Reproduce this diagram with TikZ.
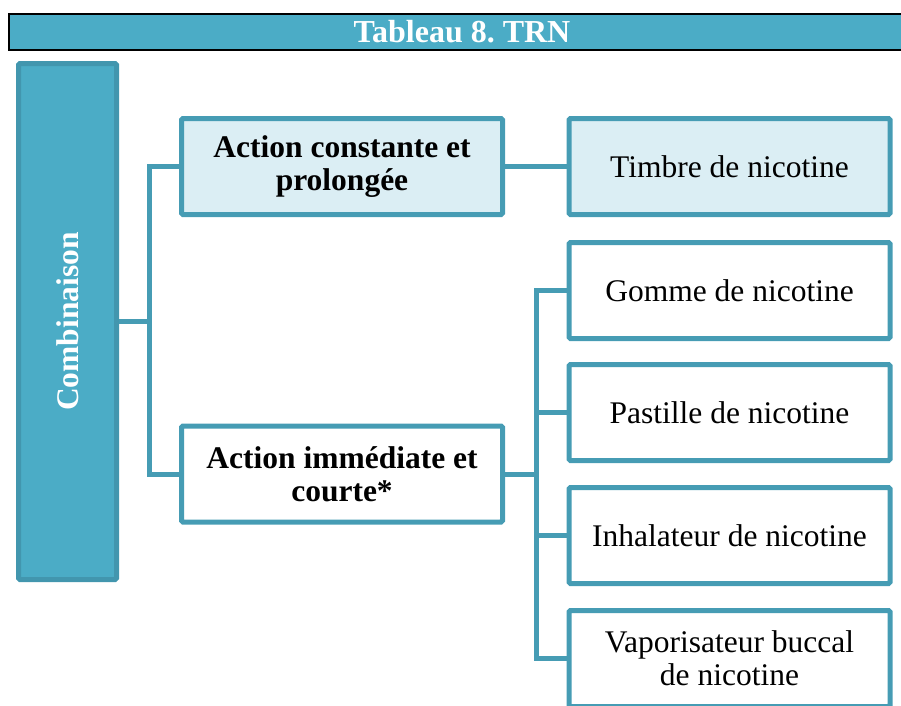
\documentclass[tikz,border=0pt]{standalone}
\usepackage{fontspec}
\usepackage{graphicx}
\setmainfont{Liberation Serif}
\frenchspacing
\definecolor{barfill}{RGB}{75,172,198}
\definecolor{edgeteal}{RGB}{70,156,180}
\definecolor{darkteal}{RGB}{66,150,174}
\definecolor{paleblue}{RGB}{219,238,244}
\tikzset{
  box/.style={draw=edgeteal, line width=5pt, rounded corners=1.5pt, minimum width=321pt, minimum height=96pt, align=center, inner sep=2pt, font=\fontsize{31.5}{33}\selectfont},
  hilite/.style={box, fill=paleblue},
  plain/.style={box, fill=white},
  link/.style={draw=edgeteal, line width=5pt}
}
\begin{document}
\begin{tikzpicture}[x=1pt,y=-1pt]
				\clip (0,0) rectangle (901,705);
				\node[draw=black, line width=2pt, fill=barfill, minimum width=906pt, minimum height=36pt, inner sep=0pt, text=white, font=\fontsize{32}{33}\selectfont\bfseries] (title) at (462,32) {Tableau 8. TRN};
				\node[draw=darkteal, fill=barfill, line width=5pt, rounded corners=1.5pt, minimum width=98pt, minimum height=516pt, inner sep=0pt, text=white, font=\fontsize{31.5}{33}\selectfont\bfseries] (combi) at (67.5,321.5) {\rotatebox{90}{Combinaison}};
				\node[hilite, font=\fontsize{31.5}{33}\selectfont\bfseries] (constante) at (342,166.5) {Action constante et\\prolongée};
				\node[plain, font=\fontsize{31.5}{33}\selectfont\bfseries] (immediate) at (342,474) {Action immédiate et\\courte*};
				\node[hilite] (timbre) at (729.5,166.5) {Timbre de nicotine};
				\node[plain] (gomme) at (729.5,290.5) {Gomme de nicotine};
				\node[plain] (pastille) at (729.5,412.5) {Pastille de nicotine};
				\node[plain] (inhal) at (729.5,535.5) {Inhalateur de nicotine};
				\node[plain] (vapo) at (729.5,658.5) {Vaporisateur buccal\\de nicotine};
				% branches
				\coordinate (jA) at (149.5,321.5);
				\coordinate (jB) at (536,474);
				\draw[link] (combi.east) -- (jA);
				\draw[link] (constante.west) -| (jA) |- (immediate.west);
				\draw[link] (constante.east) -- (timbre.west);
				\draw[link] (immediate.east) -- (jB);
				\foreach \n in {gomme,pastille,inhal,vapo}
					\draw[link] (\n.west) -| (jB);
\end{tikzpicture}
\end{document}
